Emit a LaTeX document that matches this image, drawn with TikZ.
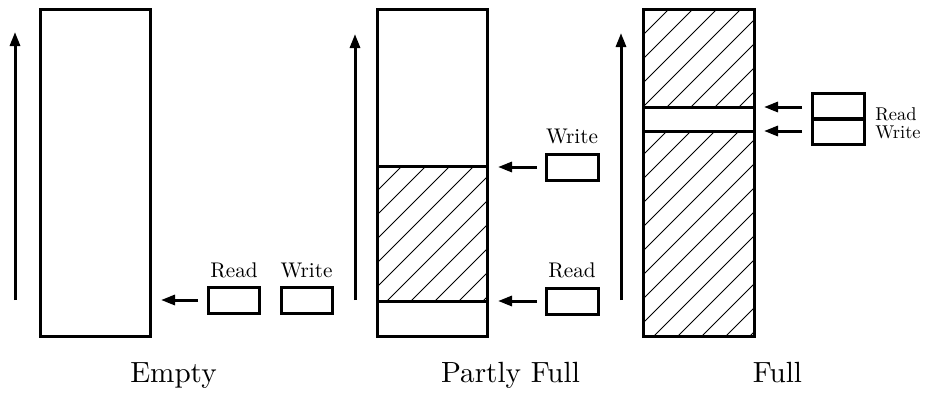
\documentclass[tikz,border=0pt]{standalone}
\usetikzlibrary{arrows.meta}
\begin{document}
\begin{tikzpicture}[x=1pt,y=-1pt,
  bar/.style={line width=3pt},
  buf/.style={draw, line width=3pt, inner sep=0pt, outer sep=0pt, minimum width=110pt, minimum height=327pt},
  ptr/.style={draw, line width=3pt, inner sep=0pt, outer sep=0pt, minimum width=51pt, minimum height=26pt},
  arr/.style={line width=3pt, -{Triangle[length=14pt,width=10pt]}},
  hatch/.style={line width=1pt},
  lbl/.style={font=\fontsize{10}{12}\selectfont, scale=2.12, inner sep=0pt, anchor=base},
  slbl/.style={font=\fontsize{10}{12}\selectfont, scale=1.85, inner sep=0pt, anchor=base west},
  captext/.style={font=\fontsize{10}{12}\selectfont, scale=2.92, inner sep=0pt, anchor=base}]
\useasboundingbox (0,0) rectangle (931,392);

% ---------- hatching ----------
\begin{scope}
  \clip (377,166) rectangle (487,301);
  \foreach \c in {544,568,...,800} \draw[hatch] (\c-301,301) -- (\c-166,166);
\end{scope}
\begin{scope}
  \clip (643,9) rectangle (754,107);
  \foreach \c in {630,654,...,870} \draw[hatch] (\c-107,107) -- (\c-9,9);
\end{scope}
\begin{scope}
  \clip (643,131) rectangle (754,336);
  \foreach \c in {750,774,...,1100} \draw[hatch] (\c-336,336) -- (\c-131,131);
\end{scope}

% ---------- buffers ----------
\node[buf] (eb) at (95,172.5) {};
\node[buf] (pb) at (432,172.5) {};
\node[buf, minimum width=111pt] (fb) at (698.5,172.5) {};

\draw[bar] (pb.west |- 0,166) -- (pb.east |- 0,166);
\draw[bar] (pb.west |- 0,301) -- (pb.east |- 0,301);
\draw[bar] (fb.west |- 0,107) -- (fb.east |- 0,107);
\draw[bar] (fb.west |- 0,131) -- (fb.east |- 0,131);

% ---------- up arrows ----------
\coordinate (eu0) at (15,300);  \coordinate (eu1) at (15,32);
\coordinate (pu0) at (355,300); \coordinate (pu1) at (355,34);
\coordinate (fu0) at (621,300); \coordinate (fu1) at (621,33);
\draw[arr] (eu0) -- (eu1);
\draw[arr] (pu0) -- (pu1);
\draw[arr] (fu0) -- (fu1);

% ---------- pointer boxes ----------
\node[ptr] (er) at (234,300) {};
\node[ptr] (ew) at (306.5,300) {};
\node[ptr, minimum width=52pt] (pw) at (572,167) {};
\node[ptr, minimum width=52pt] (pr) at (572,301) {};
\node[ptr, minimum width=52pt, minimum height=25pt] (fr) at (838.5,106) {};
\node[ptr, minimum width=52pt, minimum height=25pt] (fw) at (838.5,131.5) {};

% ---------- horizontal arrows ----------
\coordinate (ea0) at (198,300); \coordinate (ea1) at (161,300);
\coordinate (pwa0) at (537,167); \coordinate (pwa1) at (498,167);
\coordinate (pra0) at (537,301); \coordinate (pra1) at (498,301);
\coordinate (fra0) at (802,107); \coordinate (fra1) at (764,107);
\coordinate (fwa0) at (802,131); \coordinate (fwa1) at (764,131);
\draw[arr] (ea0) -- (ea1);
\draw[arr] (pwa0) -- (pwa1);
\draw[arr] (pra0) -- (pra1);
\draw[arr] (fra0) -- (fra1);
\draw[arr] (fwa0) -- (fwa1);

% ---------- labels ----------
\node[lbl] (ler) at (234,277) {Read};
\node[lbl] (lew) at (306.5,277) {Write};
\node[lbl] (lpw) at (572,143) {Write};
\node[lbl] (lpr) at (572,277) {Read};
\node[slbl] (lfr) at (875,120) {Read};
\node[slbl] (lfw) at (875,138) {Write};

\node[captext] (ce) at (173.5,382) {Empty};
\node[captext] (cp) at (510.5,382) {Partly Full};
\node[captext] (cf) at (777.5,382) {Full};
\end{tikzpicture}
\end{document}
